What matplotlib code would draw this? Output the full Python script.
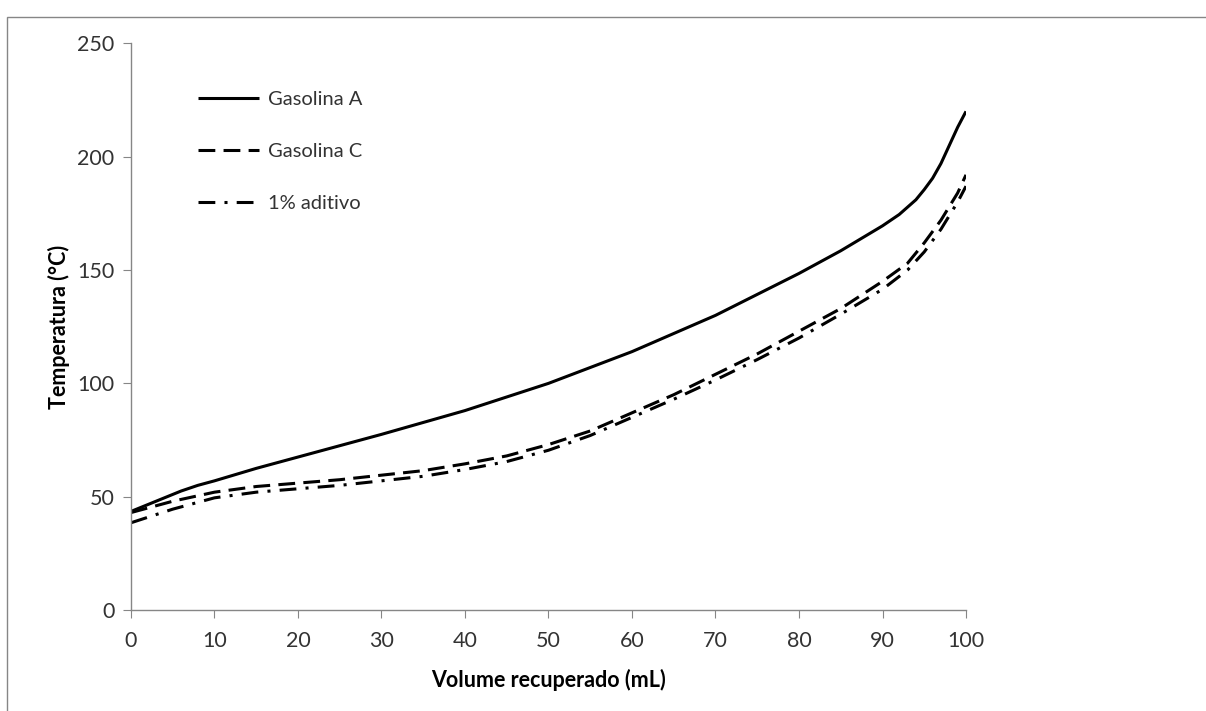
import matplotlib.pyplot as plt
from matplotlib.patches import Rectangle

plt.rcParams['font.family'] = ['Lato', 'DejaVu Sans']

# Gasolina A
xA = [0, 2, 4, 6, 8, 10, 15, 20, 30, 40, 50, 60, 70, 80, 85, 90, 92, 94, 95, 96, 97, 98, 99, 100]
yA = [43.5, 46.5, 49.5, 52.5, 55, 57, 62.5, 67.5, 77.5, 88, 100, 114, 130, 148.5, 158.5, 169.5, 174.5, 181, 185.5, 190.5, 197, 205, 213, 220]

# Gasolina C and 1% aditivo
xC = [0, 5, 10, 15, 20, 25, 30, 35, 40, 45, 50, 55, 60, 65, 70, 75, 80, 85, 90, 93, 95, 97, 99, 100]
yC = [43, 48, 52, 54.5, 56, 57.5, 59.5, 61.5, 64.5, 68, 73, 79, 87, 95, 104, 113, 123, 133, 145, 153, 162, 172, 184, 192]
yAd = [38.5, 44.5, 49.5, 52, 53.5, 55, 57, 59, 62, 65.5, 70.5, 77, 85, 93, 101.5, 110.5, 120, 130.5, 141.5, 150, 158, 168, 180, 187]

fig = plt.figure(figsize=(12.06, 7.11), dpi=100)
ax = fig.add_axes([0.1086, 0.142, 0.6924, 0.797])

# outer chart frame (left/top edges visible only)
fig.patches.append(Rectangle((7/1206, -0.1), 1.2, 1 - 17/711 + 0.1, transform=fig.transFigure,
                             fill=False, edgecolor='#868686', lw=1))

ax.plot(xA, yA, color='black', lw=2.2, label='Gasolina A', solid_capstyle='butt')
ax.plot(xC, yC, color='black', lw=2.2, dashes=(5.5, 2.7), label='Gasolina C')
ax.plot(xC, yAd, color='black', lw=2.2, dashes=(5.5, 3, 1, 3), label='1% aditivo')

ax.set_xlim(0, 100)
ax.set_ylim(0, 250)
ax.set_xticks(range(0, 101, 10))
ax.set_yticks(range(0, 251, 50))
for s in ['top', 'right']:
    ax.spines[s].set_visible(False)
for s in ['left', 'bottom']:
    ax.spines[s].set_color('#868686')
    ax.spines[s].set_linewidth(1)
ax.tick_params(direction='out', length=6, color='#868686', labelsize=15.5, labelcolor='#333333', pad=6)
ax.tick_params(axis='x', pad=9)

ax.set_xlabel('Volume recuperado (mL)', fontsize=15.5, fontweight='bold', labelpad=13)
ax.set_ylabel('Temperatura (°C)', fontsize=15.5, fontweight='bold', labelpad=5)

leg = ax.legend(loc='upper left', bbox_to_anchor=(180/1206, 1 - 73/711), bbox_transform=fig.transFigure,
                frameon=False, fontsize=14.5, handlelength=3.0, handletextpad=0.45, labelspacing=1.72)
for t in leg.get_texts():
    t.set_color('#333333')

fig.savefig('out.png', dpi=100)
